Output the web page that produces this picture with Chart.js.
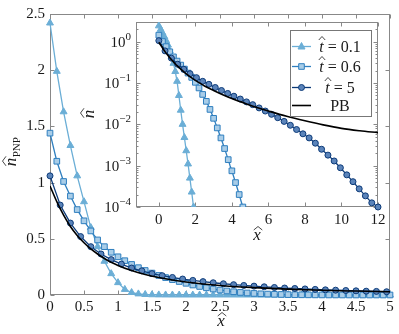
<!DOCTYPE html>
<html>
<head>
<meta charset="utf-8">
<script src="https://cdn.jsdelivr.net/npm/chart.js@4.4.0/dist/chart.umd.min.js"></script>
<style>
html, body { margin: 0; padding: 0; background: #fff; }
#wrap { position: relative; width: 399px; height: 334px; }
#main { position: absolute; left: 0; top: 0; }
#inset { position: absolute; left: 70px; top: 10px; }
</style>
</head>
<body>
<div id="wrap">
  <canvas id="main" width="399" height="334"></canvas>
  <canvas id="inset" width="320" height="240"></canvas>
</div>
<script>
// tick labels
const mainXTicks = [0, 0.5, 1, 1.5, 2, 2.5, 3, 3.5, 4, 4.5, 5];
const mainYTicks = [0, 0.5, 1, 1.5, 2, 2.5];
const insetXTicks = [0, 2, 4, 6, 8, 10, 12];
const insetYTicks = [1e-4, 1e-3, 1e-2, 1e-1, 1];
const seriesNames = ['0.1', '0.6', '5', 'PB'];

// t = 0.1 and t = 0.6 share the same x grid
const gridX = [0, 0.1, 0.2, 0.3, 0.4, 0.5, 0.6, 0.7, 0.8, 0.9,
  1.0, 1.1, 1.2, 1.3, 1.4, 1.5, 1.6, 1.7, 1.8, 1.9,
  2.0, 2.1, 2.2, 2.3, 2.4, 2.5, 2.6, 2.7, 2.8, 2.9,
  3.0, 3.1, 3.2, 3.3, 3.4, 3.5, 3.6, 3.7, 3.8, 3.9,
  4.0, 4.1, 4.2, 4.3, 4.4, 4.5, 4.6, 4.7, 4.8, 4.9, 5.0];

const t01 = [2.42, 1.99, 1.63, 1.33, 1.06, 0.83, 0.60, 0.43, 0.30, 0.19,
  0.11, 0.05, 0.022, 0.010, 0.0048, 0.0023, 0.0011, 0.0005, 0.00023, 0.0001,
  0.000045, 0.00002, 0.000009, 0.000004, 0.0000018, 0.0000008, 0.00000035, 0.00000015, 0.00000007, 0.00000003,
  1e-8, 1e-8, 1e-8, 1e-8, 1e-8, 1e-8, 1e-8, 1e-8, 1e-8, 1e-8,
  1e-8, 1e-8, 1e-8, 1e-8, 1e-8, 1e-8, 1e-8, 1e-8, 1e-8, 1e-8, 1e-8];

const t06 = [1.44, 1.19, 1.01, 0.88, 0.76, 0.66, 0.57, 0.49, 0.43, 0.38,
  0.34, 0.305, 0.272, 0.243, 0.218, 0.195, 0.174, 0.155, 0.137, 0.12,
  0.104, 0.089, 0.076, 0.064, 0.053, 0.044, 0.036, 0.029, 0.023, 0.018,
  0.014, 0.0107, 0.0082, 0.0062, 0.0047, 0.0035, 0.0026, 0.0019, 0.0014, 0.001,
  0.00075, 0.00054, 0.00039, 0.00028, 0.0002, 0.00014, 0.0001, 0.00007, 0.00005, 0.000035, 0.000025];

// t = 5, main plot
const t5X = [0, 0.15, 0.3, 0.45, 0.6, 0.75, 0.9, 1.05, 1.2, 1.35,
  1.5, 1.65, 1.8, 1.95, 2.1, 2.25, 2.4, 2.55, 2.7, 2.85,
  3.0, 3.15, 3.3, 3.45, 3.6, 3.75, 3.9, 4.05, 4.2, 4.35,
  4.5, 4.65, 4.8, 4.95, 5.1];
const t5Y = [1.06, 0.80, 0.64, 0.52, 0.43, 0.365, 0.315, 0.275, 0.24, 0.215,
  0.19, 0.172, 0.156, 0.142, 0.13, 0.119, 0.109, 0.100, 0.092, 0.085,
  0.079, 0.073, 0.067, 0.062, 0.058, 0.054, 0.050, 0.046, 0.043, 0.040,
  0.037, 0.034, 0.032, 0.029, 0.027];

// t = 5, inset (coarser marks over the whole domain)
const t5InsetX = [0, 0.34, 0.69, 1.03, 1.37, 1.71, 2.06, 2.4, 2.74, 3.09,
  3.43, 3.77, 4.11, 4.46, 4.8, 5.14, 5.49, 5.83, 6.17, 6.51,
  6.86, 7.2, 7.54, 7.89, 8.23, 8.57, 8.91, 9.26, 9.6, 9.94,
  10.29, 10.63, 10.97, 11.31, 11.66, 12];
const t5InsetY = [1.06, 0.60, 0.40, 0.285, 0.215, 0.168, 0.135, 0.11, 0.093, 0.078,
  0.066, 0.056, 0.048, 0.041, 0.035, 0.030, 0.025, 0.021, 0.0175, 0.0145,
  0.0118, 0.0095, 0.0075, 0.0059, 0.0047, 0.0035, 0.0025, 0.0018, 0.0013, 0.00089,
  0.0006, 0.00041, 0.000275, 0.000186, 0.000126, 0.0001];

// Poisson-Boltzmann
const pbX = [0, 0.1, 0.2, 0.3, 0.4, 0.5, 0.6, 0.7, 0.8, 0.9, 1.0, 1.2, 1.4, 1.6, 1.8,
  2.0, 2.5, 3, 3.5, 4, 4.5, 5, 5.5, 6, 7, 8, 9, 10, 11, 12];
const pbY = [0.97, 0.83, 0.71, 0.61, 0.53, 0.465, 0.41, 0.365, 0.325, 0.292, 0.263, 0.217, 0.182, 0.155, 0.133,
  0.116, 0.085, 0.066, 0.052, 0.042, 0.035, 0.029, 0.0245, 0.021, 0.0157, 0.0122, 0.0097, 0.008, 0.007, 0.0063];

const C01 = '#6baed6', C06 = '#2f7fbf', C5 = '#0c3a78';
const SERIF = "'Liberation Serif'";
const INK = '#1a1a1a';

const pts = (xs, ys) => xs.map((x, i) => ({ x: x, y: ys[i] }));

// axis box with inward ticks (pgfplots look)
const framePlugin = {
  id: 'frame',
  beforeDatasetsDraw(chart, args, o) {
    const { ctx, chartArea: a } = chart;
    const sx = chart.scales.x, sy = chart.scales.y;
    const L = Math.round(a.left) + 0.5, R = Math.round(a.right) - 0.5;
    const T = Math.round(a.top) + 0.5, B = Math.round(a.bottom) - 0.5;
    ctx.save();
    ctx.lineWidth = 1;
    ctx.strokeStyle = o.color || '#888';
    ctx.strokeRect(L, T, R - L, B - T);
    ctx.beginPath();
    sx.ticks.forEach(t => {
      const p = Math.round(sx.getPixelForValue(t.value)) + 0.5;
      ctx.moveTo(p, B); ctx.lineTo(p, B - 4);
      ctx.moveTo(p, T); ctx.lineTo(p, T + 4);
    });
    sy.ticks.forEach(t => {
      const p = Math.round(sy.getPixelForValue(t.value)) + 0.5;
      ctx.moveTo(L, p); ctx.lineTo(L + 4, p);
      ctx.moveTo(R, p); ctx.lineTo(R - 4, p);
    });
    if (o.minor) {
      for (let k = -4; k <= 0; k++) {
        for (let m = 2; m <= 9; m++) {
          const v = m * Math.pow(10, k);
          if (v > sy.max) continue;
          const p = Math.round(sy.getPixelForValue(v)) + 0.5;
          ctx.moveTo(L, p); ctx.lineTo(L + 2, p);
          ctx.moveTo(R, p); ctx.lineTo(R - 2, p);
        }
      }
    }
    ctx.stroke();
    ctx.restore();
  }
};

function hatLabel(ctx, letter, sub, x, y, rotate) {
  ctx.save();
  ctx.translate(x, y);
  if (rotate) ctx.rotate(-Math.PI / 2);
  ctx.fillStyle = INK;
  ctx.textBaseline = 'alphabetic';
  ctx.textAlign = 'left';
  ctx.font = 'italic 17px ' + SERIF;
  const w1 = ctx.measureText(letter).width;
  let w2 = 0;
  if (sub) { ctx.font = '11px ' + SERIF; w2 = ctx.measureText(sub).width; }
  const x0 = -(w1 + w2) / 2;
  ctx.font = 'italic 17px ' + SERIF;
  ctx.fillText(letter, x0, 0);
  // wide hat over the letter
  ctx.strokeStyle = INK;
  ctx.lineWidth = 0.8;
  ctx.beginPath();
  ctx.moveTo(x0 + 0.5, -10);
  ctx.lineTo(x0 + w1 / 2 + 1, -13.5);
  ctx.lineTo(x0 + w1 + 1.5, -10);
  ctx.stroke();
  if (sub) {
    ctx.font = '11px ' + SERIF;
    ctx.fillText(sub, x0 + w1 + 0.5, 4);
  }
  ctx.restore();
}

const mainTitles = {
  id: 'mainTitles',
  afterDraw(chart) {
    const ctx = chart.ctx;
    hatLabel(ctx, 'x', null, 221, 326, false);
    hatLabel(ctx, 'n', 'PNP', 16, 152, true);
  }
};

const insetDecor = {
  id: 'insetDecor',
  afterDraw(chart) {
    const { ctx, chartArea: a } = chart;
    const sy = chart.scales.y;
    // log tick labels 10^k
    ctx.save();
    ctx.fillStyle = INK;
    ctx.textBaseline = 'alphabetic';
    ctx.textAlign = 'left';
    insetYTicks.forEach(v => {
      const k = Math.round(Math.log10(v));
      const sup = k === 0 ? '0' : '\u2212' + Math.abs(k);
      const p = sy.getPixelForValue(v);
      ctx.font = '11px ' + SERIF;
      const ws = ctx.measureText(sup).width;
      ctx.font = '15px ' + SERIF;
      const wb = ctx.measureText('10').width;
      const right = a.left - 5;
      ctx.fillText('10', right - ws - wb, p + 5);
      ctx.font = '11px ' + SERIF;
      ctx.fillText(sup, right - ws, p - 2);
    });
    ctx.restore();

    hatLabel(ctx, 'x', null, 187, 230, false);
    hatLabel(ctx, 'n', null, 24, 104, true);

    // legend
    const bx = 220, by = 20, bw = 81, bh = 86;
    ctx.save();
    ctx.fillStyle = '#fff';
    ctx.fillRect(bx, by, bw, bh);
    ctx.strokeStyle = '#777';
    ctx.lineWidth = 1;
    ctx.strokeRect(bx + 0.5, by + 0.5, bw, bh);
    const rows = [36, 56, 77, 95];
    const cols = [C01, C06, C5, '#000'];
    const shapes = ['triangle', 'rect', 'circle', null];
    rows.forEach((ry, i) => {
      ctx.strokeStyle = cols[i];
      ctx.lineWidth = i === 3 ? 1.6 : 1.3;
      ctx.beginPath();
      ctx.moveTo(222, ry + 0.5); ctx.lineTo(241, ry + 0.5);
      ctx.stroke();
      drawMark(ctx, shapes[i], 231.5, ry + 0.5);
      ctx.fillStyle = INK;
      ctx.textBaseline = 'alphabetic';
      ctx.textAlign = 'left';
      if (i < 3) {
        const rest = ' = ' + seriesNames[i];
        ctx.font = 'italic 16px ' + SERIF;
        const wt = ctx.measureText('t').width;
        ctx.font = '16px ' + SERIF;
        const wr = ctx.measureText(rest).width;
        const x0 = 270 - (wt + wr) / 2;
        ctx.font = 'italic 16px ' + SERIF;
        ctx.fillText('t', x0, ry + 6);
        ctx.strokeStyle = INK;
        ctx.lineWidth = 0.8;
        ctx.beginPath();
        ctx.moveTo(x0 - 0.5, ry - 6);
        ctx.lineTo(x0 + wt / 2 + 0.5, ry - 9.5);
        ctx.lineTo(x0 + wt + 1.5, ry - 6);
        ctx.stroke();
        ctx.font = '16px ' + SERIF;
        ctx.fillText(rest, x0 + wt, ry + 6);
      } else {
        ctx.font = '16px ' + SERIF;
        ctx.textAlign = 'center';
        ctx.fillText(seriesNames[3], 270, ry + 6);
      }
    });
    ctx.restore();
  }
};

function drawMark(ctx, shape, x, y) {
  if (!shape) return;
  ctx.save();
  ctx.lineWidth = 1;
  ctx.beginPath();
  if (shape === 'triangle') {
    ctx.moveTo(x, y - 4); ctx.lineTo(x + 3.5, y + 2.5); ctx.lineTo(x - 3.5, y + 2.5); ctx.closePath();
    ctx.fillStyle = C01; ctx.strokeStyle = C01;
  } else if (shape === 'rect') {
    ctx.rect(x - 2.8, y - 2.8, 5.6, 5.6);
    ctx.fillStyle = '#a9cde8'; ctx.strokeStyle = C06;
  } else {
    ctx.arc(x, y, 3, 0, Math.PI * 2);
    ctx.fillStyle = '#5b84ba'; ctx.strokeStyle = C5;
  }
  ctx.fill(); ctx.stroke();
  ctx.restore();
}

function ds(data, color, shape, r, extra) {
  return Object.assign({
    data: data,
    borderColor: color,
    borderWidth: 1.3,
    pointStyle: shape || false,
    pointRadius: shape ? r : 0,
    pointBorderWidth: 1,
    pointBorderColor: color,
    pointBackgroundColor: color,
    tension: 0,
    fill: false
  }, extra || {});
}

const tickFont = { family: SERIF, size: 15 };

new Chart(document.getElementById('main'), {
  type: 'line',
  data: {
    datasets: [
      ds(pts(gridX, t01), C01, 'triangle', 4, { order: 4, clip: { left: 6, top: 6, right: 5, bottom: 6 } }),
      ds(pts(gridX, t06), C06, 'rect', 4, { order: 3, pointBackgroundColor: '#a9cde8', clip: { left: 6, top: 6, right: 5, bottom: 6 } }),
      ds(pts(t5X, t5Y), C5, 'circle', 3, { order: 2, pointBackgroundColor: '#5b84ba', clip: { left: 6, top: 6, right: 0, bottom: 6 } }),
      ds(pts(pbX, pbY), '#000', null, 0, { order: 1, borderWidth: 1.6, cubicInterpolationMode: 'monotone' })
    ]
  },
  options: {
    responsive: false,
    animation: false,
    devicePixelRatio: 1,
    layout: { padding: { top: 10, right: 9, left: 0, bottom: 0 } },
    plugins: { legend: { display: false }, tooltip: { enabled: false }, frame: { color: '#888' } },
    scales: {
      x: {
        type: 'linear', min: 0, max: 5,
        afterBuildTicks: s => { s.ticks = mainXTicks.map(v => ({ value: v })); },
        afterFit: s => { s.height = 39; },
        grid: { display: false, drawTicks: false },
        border: { display: false },
        ticks: { padding: 3, color: INK, font: tickFont, maxRotation: 0, autoSkip: false, callback: v => String(v) }
      },
      y: {
        type: 'linear', min: 0, max: 2.5,
        afterBuildTicks: s => { s.ticks = mainYTicks.map(v => ({ value: v })); },
        afterFit: s => { s.width = 50; },
        grid: { display: false, drawTicks: false },
        border: { display: false },
        ticks: { padding: 5, color: INK, font: tickFont, autoSkip: false, callback: v => String(v) }
      }
    }
  },
  plugins: [framePlugin, mainTitles]
});

new Chart(document.getElementById('inset'), {
  type: 'line',
  data: {
    datasets: [
      ds(pts(gridX, t01), C01, 'triangle', 4, { order: 4 }),
      ds(pts(gridX, t06), C06, 'rect', 4, {
        order: 3, pointBackgroundColor: '#a9cde8',
        pointRadius: c => (c.dataIndex % 2 === 0 ? 4 : 0)
      }),
      ds(pts(t5InsetX, t5InsetY), C5, 'circle', 3, { order: 2, pointBackgroundColor: '#5b84ba', clip: 6 }),
      ds(pts(pbX, pbY), '#000', null, 0, { order: 1, borderWidth: 1.6, cubicInterpolationMode: 'monotone' })
    ]
  },
  options: {
    responsive: false,
    animation: false,
    devicePixelRatio: 1,
    layout: { padding: { top: 12, right: 12, left: 0, bottom: 0 } },
    plugins: { legend: { display: false }, tooltip: { enabled: false }, frame: { color: '#888', minor: true } },
    scales: {
      x: {
        type: 'linear', min: -1.25, max: 12,
        afterBuildTicks: s => { s.ticks = insetXTicks.map(v => ({ value: v })); },
        afterFit: s => { s.height = 43; },
        grid: { display: false, drawTicks: false },
        border: { display: false },
        ticks: { padding: 4, color: INK, font: tickFont, maxRotation: 0, autoSkip: false, callback: v => String(v) }
      },
      y: {
        type: 'logarithmic', min: 1e-4, max: 3,
        afterBuildTicks: s => { s.ticks = insetYTicks.map(v => ({ value: v })); },
        afterFit: s => { s.width = 66; },
        grid: { display: false, drawTicks: false },
        border: { display: false },
        ticks: { display: false }
      }
    }
  },
  plugins: [framePlugin, insetDecor]
});
</script>
</body>
</html>
